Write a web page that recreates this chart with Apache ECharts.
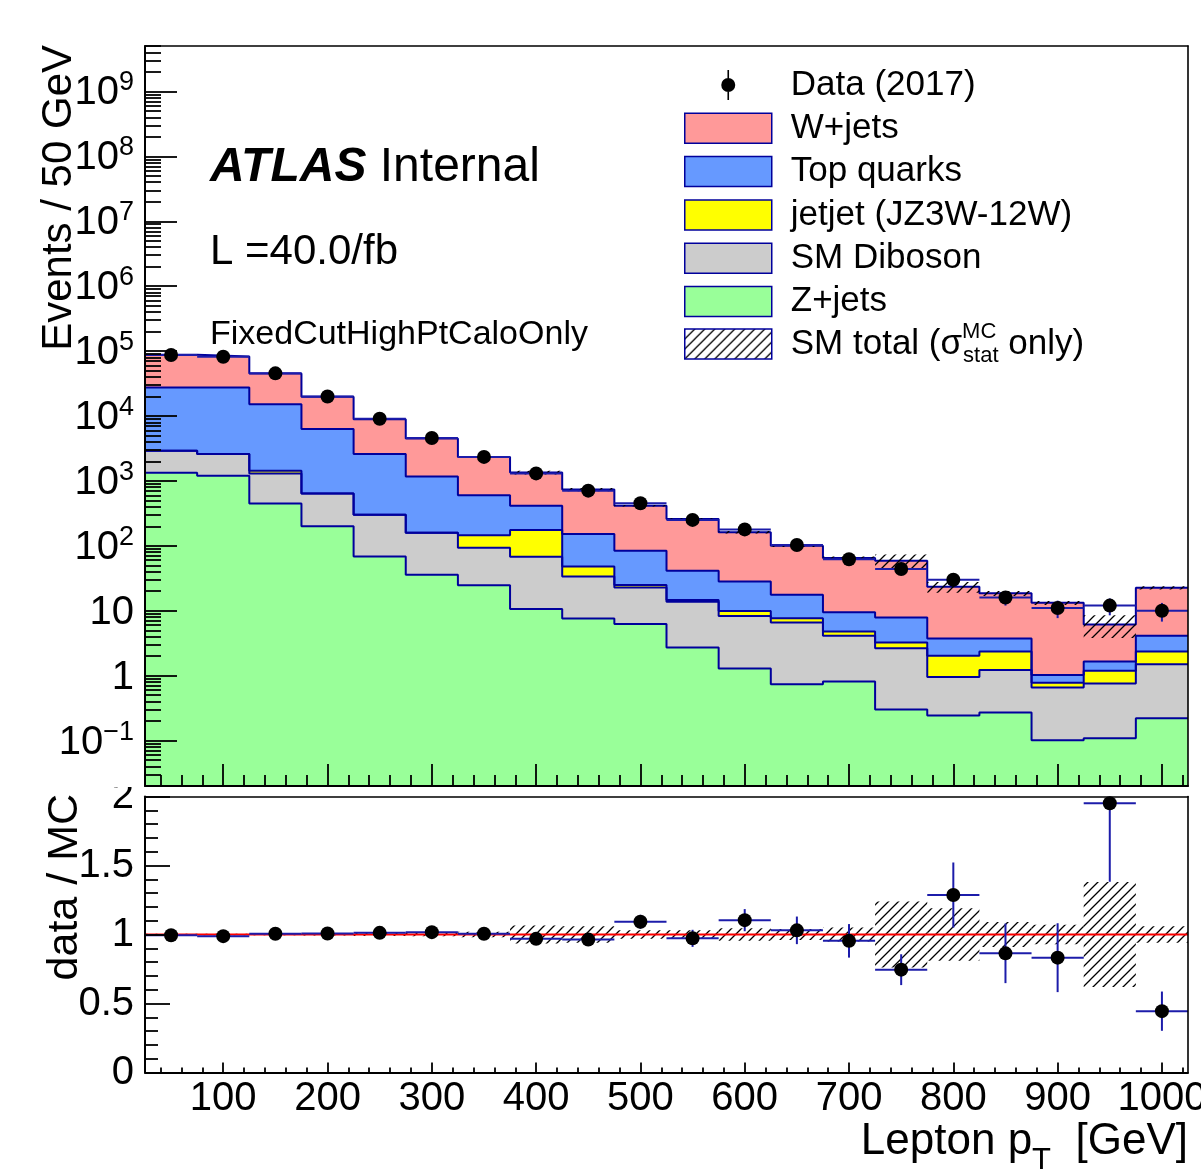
<!DOCTYPE html>
<html>
<head>
<meta charset="utf-8">
<script src="https://cdn.jsdelivr.net/npm/echarts@6/dist/echarts.min.js"></script>
<style>
html,body{margin:0;padding:0;background:#fff;}
#chart{width:1201px;height:1169px;}
</style>
</head>
<body>
<div id="chart"></div>
<script>
// ---------------- data ----------------
const binCenters = [50,100,150,200,250,300,350,400,450,500,550,600,650,700,750,800,850,900,950,1000];
const binWidth = 50;
const zJets     = [1334,1200,449,201,68.4,35.7,24.8,10.6,7.6,6.22,2.71,1.29,0.74,0.81,0.30,0.243,0.270,0.101,0.109,0.221];
const diboson   = [1576,1390,851,439,233,124,69,57,26,16.6,11.0,7.0,5.85,3.29,2.35,0.714,0.95,0.555,0.646,1.28];
const jetjet    = [0,0,132,0,0,0,52,107,14.5,2.0,0.9,1.66,1.10,0.69,0.59,1.06,1.13,0.124,0.435,0.85];
const topQuarks = [24590,24910,13768,5640,2289,1010,458,238,104,59,26.6,18.2,9.9,4.7,4.61,1.71,1.38,0.24,0.46,1.75];
const wJets     = [60200,55100,30000,13520,6360,3330,1726,936,583,331,217,134,82.4,55.5,51.2,19.6,14.8,12.2,4.5,18.4];
const dataCounts = [87260,81610,45430,19940,9057,4577,2342,1306,708,453,251,179,103,62,44,30,16,11,12,10];
const dataErr    = [295,286,213,141,95,68,48,36,27,21,16,13,10,7.9,6.6,5.5,4.0,3.3,3.5,3.2];
const mcStatRelErr = [0.005,0.005,0.006,0.008,0.01,0.012,0.02,0.065,0.06,0.03,0.03,0.045,0.04,0.05,0.24,0.19,0.09,0.07,0.38,0.06];

const xMajorTicks = [100,200,300,400,500,600,700,800,900,1000];
const yLogMajorTicks = [-1,0,1,2,3,4,5,6,7,8,9];
const ratioMajorTicks = [0,0.5,1,1.5,2];

const legendNames = ['Data (2017)','W+jets','Top quarks','jetjet (JZ3W-12W)','SM Diboson','Z+jets','SM total'];

// ---------------- styling constants ----------------
const FONT = '"Liberation Sans", Arial, Helvetica, sans-serif';
const NAVY = '#00009c';
const BLUE = '#1c1caa';
const C_W = '#ff9999', C_TOP = '#6699ff', C_JJ = '#ffff00', C_DIB = '#cccccc', C_Z = '#99ff99';
const X_MIN = 25, X_MAX = 1025;
const LOG_MIN = -1.7, LOG_MAX = 9.7;
const R_MIN = 0, R_MAX = 2;

// ---------------- derived ----------------
const cumZ = zJets.slice();
const cumDib = cumZ.map((v,i)=>v+diboson[i]);
const cumJJ = cumDib.map((v,i)=>v+jetjet[i]);
const cumTop = cumJJ.map((v,i)=>v+topQuarks[i]);
const mcTotal = cumTop.map((v,i)=>v+wJets[i]);
const lg = Math.log10;

function stepData(arr){
  const pts = binCenters.map((c,i)=>[c-binWidth/2, lg(arr[i])]);
  const last = binCenters.length-1;
  pts.push([binCenters[last]+binWidth/2, lg(arr[last])]);
  return pts;
}

const xMinorTicks = [];
for (let v=40; v<X_MAX; v+=20) if (v%100!==0) xMinorTicks.push(v);
const yLogMinorTicks = [];
for (let e=-2; e<=9; e++) for (let k=2;k<=9;k++){ const v=e+lg(k); if (v>LOG_MIN && v<LOG_MAX) yLogMinorTicks.push(v); }
const ratioMinorTicks = [];
for (let k=1;k<20;k++) if (k%5!==0) ratioMinorTicks.push(k/10);

// hatch pattern
function makeHatch(){
  const s=10, cv=document.createElement('canvas');
  cv.width=s; cv.height=s;
  const ctx=cv.getContext('2d');
  ctx.strokeStyle='#000'; ctx.lineWidth=1.3;
  ctx.beginPath();
  ctx.moveTo(0,s); ctx.lineTo(s,0);
  ctx.moveTo(-2,2); ctx.lineTo(2,-2);
  ctx.moveTo(s-2,s+2); ctx.lineTo(s+2,s-2);
  ctx.stroke();
  return {image: cv, repeat: 'repeat'};
}
const HATCH = makeHatch();

// ---------------- axes ----------------
const AX = {color:'#000', width:2};
function logLabel(v){
  const n = Math.round(v);
  if (n===0) return '{b|1}';
  if (n===1) return '{b|10}';
  return '{b|10}{s|' + (n<0 ? '\u2212'+(-n) : n) + '}';
}
const xAxes = [
  {gridIndex:0, type:'value', min:X_MIN, max:X_MAX, position:'bottom', z:10,
   axisLine:{show:true, onZero:false, lineStyle:AX},
   axisTick:{show:true, inside:true, length:22, customValues:xMajorTicks, lineStyle:{color:'#000', width:1.8}},
   axisLabel:{show:false}, splitLine:{show:false}},
  {gridIndex:0, type:'value', min:X_MIN, max:X_MAX, position:'bottom', z:10,
   axisLine:{show:false, onZero:false},
   axisTick:{show:true, inside:true, length:11, customValues:xMinorTicks, lineStyle:{color:'#000', width:1.8}},
   axisLabel:{show:false}, splitLine:{show:false}},
  {gridIndex:0, type:'value', min:X_MIN, max:X_MAX, position:'top', z:10,
   axisLine:{show:true, onZero:false, lineStyle:{color:'#000', width:1.6}},
   axisTick:{show:false}, axisLabel:{show:false}, splitLine:{show:false}},
  {gridIndex:1, type:'value', min:X_MIN, max:X_MAX, position:'bottom', z:10,
   axisLine:{show:true, onZero:false, lineStyle:AX},
   axisTick:{show:true, inside:true, length:10, customValues:xMajorTicks, lineStyle:{color:'#000', width:1.8}},
   axisLabel:{show:true, customValues:xMajorTicks, margin:6, color:'#000', fontSize:40, fontFamily:FONT,
     formatter: v => String(v)},
   splitLine:{show:false}},
  {gridIndex:1, type:'value', min:X_MIN, max:X_MAX, position:'bottom', z:10,
   axisLine:{show:false, onZero:false},
   axisTick:{show:true, inside:true, length:5, customValues:xMinorTicks, lineStyle:{color:'#000', width:1.8}},
   axisLabel:{show:false}, splitLine:{show:false}},
  {gridIndex:1, type:'value', min:X_MIN, max:X_MAX, position:'top', z:10,
   axisLine:{show:true, onZero:false, lineStyle:{color:'#000', width:1.6}},
   axisTick:{show:false}, axisLabel:{show:false}, splitLine:{show:false}}
];
const yAxes = [
  {gridIndex:0, type:'value', min:LOG_MIN, max:LOG_MAX, position:'left', z:10,
   axisLine:{show:true, onZero:false, lineStyle:AX},
   axisTick:{show:true, inside:true, length:32, customValues:yLogMajorTicks, lineStyle:{color:'#000', width:1.8}},
   axisLabel:{show:true, customValues:yLogMajorTicks, margin:11, formatter:logLabel,
     rich:{ b:{fontSize:40, fontFamily:FONT, color:'#000', lineHeight:44, verticalAlign:'bottom'},
            s:{fontSize:27, fontFamily:FONT, color:'#000', lineHeight:27, verticalAlign:'top'} }},
   splitLine:{show:false}},
  {gridIndex:0, type:'value', min:LOG_MIN, max:LOG_MAX, position:'left', z:10,
   axisLine:{show:false, onZero:false},
   axisTick:{show:true, inside:true, length:16, customValues:yLogMinorTicks, lineStyle:{color:'#000', width:1.8}},
   axisLabel:{show:false}, splitLine:{show:false}},
  {gridIndex:0, type:'value', min:LOG_MIN, max:LOG_MAX, position:'right', z:10,
   axisLine:{show:true, onZero:false, lineStyle:{color:'#000', width:1.6}},
   axisTick:{show:false}, axisLabel:{show:false}, splitLine:{show:false}},
  {gridIndex:1, type:'value', min:R_MIN, max:R_MAX, position:'left', z:10,
   axisLine:{show:true, onZero:false, lineStyle:AX},
   axisTick:{show:true, inside:true, length:25, customValues:ratioMajorTicks, lineStyle:{color:'#000', width:1.8}},
   axisLabel:{show:true, customValues:ratioMajorTicks, margin:11, color:'#000', fontSize:40, fontFamily:FONT,
     formatter: v => String(v)},
   splitLine:{show:false}},
  {gridIndex:1, type:'value', min:R_MIN, max:R_MAX, position:'left', z:10,
   axisLine:{show:false, onZero:false},
   axisTick:{show:true, inside:true, length:13, customValues:ratioMinorTicks, lineStyle:{color:'#000', width:1.8}},
   axisLabel:{show:false}, splitLine:{show:false}},
  {gridIndex:1, type:'value', min:R_MIN, max:R_MAX, position:'right', z:10,
   axisLine:{show:true, onZero:false, lineStyle:{color:'#000', width:1.6}},
   axisTick:{show:false}, axisLabel:{show:false}, splitLine:{show:false}}
];

// ---------------- series ----------------
function stackSeries(name, arr, fill){
  return {type:'line', name, xAxisIndex:0, yAxisIndex:0, data:stepData(arr), step:'end',
    symbol:'none', showSymbol:false, silent:true, z:2,
    lineStyle:{color:NAVY, width:2},
    areaStyle:{color:fill, opacity:1, origin:'start'},
    itemStyle:{color:fill, borderColor:NAVY},
    emphasis:{disabled:true}};
}
function hatchSeries(name, xi, yi, rows){
  return {type:'custom', name, xAxisIndex:xi, yAxisIndex:yi, z:3, silent:true,
    data: rows, encode:{x:0, y:[1,2]},
    itemStyle:{color:HATCH},
    renderItem(params, api){
      const x = api.value(0);
      const p1 = api.coord([x-binWidth/2, api.value(1)]);
      const p2 = api.coord([x+binWidth/2, api.value(2)]);
      return {type:'rect', shape:{x:p1[0], y:p1[1], width:p2[0]-p1[0], height:p2[1]-p1[1]},
              style:{fill:HATCH, stroke:null}};
    }};
}
function errSeries(name, xi, yi, rows, yMax){
  return {type:'custom', name, xAxisIndex:xi, yAxisIndex:yi, z:4, silent:true,
    data: rows, encode:{x:0, y:[1,2,3]},
    renderItem(params, api){
      const x = api.value(0), y = api.value(1), lo = api.value(2), hi = Math.min(api.value(3), yMax);
      const pL = api.coord([x-binWidth/2, y]), pR = api.coord([x+binWidth/2, y]);
      const pLo = api.coord([x, lo]), pHi = api.coord([x, hi]);
      return {type:'group', children:[
        {type:'line', shape:{x1:pL[0], y1:pL[1], x2:pR[0], y2:pR[1]}, style:{stroke:BLUE, lineWidth:2}},
        {type:'line', shape:{x1:pLo[0], y1:pLo[1], x2:pHi[0], y2:pHi[1]}, style:{stroke:BLUE, lineWidth:2}}
      ]};
    }};
}

const topHatchRows = binCenters.map((c,i)=>[c, lg(mcTotal[i]*(1+mcStatRelErr[i])), lg(mcTotal[i]*(1-mcStatRelErr[i]))]);
const topErrRows = binCenters.map((c,i)=>[c, lg(dataCounts[i]), lg(dataCounts[i]-dataErr[i]), lg(dataCounts[i]+dataErr[i])]);
const topPoints = binCenters.map((c,i)=>[c, lg(dataCounts[i])]);

const ratio = dataCounts.map((d,i)=>d/mcTotal[i]);
const ratioErr = dataErr.map((e,i)=>e/mcTotal[i]);
const ratioHatchRows = binCenters.map((c,i)=>[c, 1+mcStatRelErr[i], 1-mcStatRelErr[i]]);
const ratioErrRows = binCenters.map((c,i)=>[c, ratio[i], ratio[i]-ratioErr[i], ratio[i]+ratioErr[i]]);
const ratioPoints = binCenters.map((c,i)=>[c, ratio[i]]);

const series = [
  stackSeries('W+jets', mcTotal, C_W),
  stackSeries('Top quarks', cumTop, C_TOP),
  stackSeries('jetjet (JZ3W-12W)', cumJJ, C_JJ),
  stackSeries('SM Diboson', cumDib, C_DIB),
  stackSeries('Z+jets', cumZ, C_Z),
  hatchSeries('SM total', 0, 0, topHatchRows),
  errSeries('data errors', 0, 0, topErrRows, LOG_MAX),
  {type:'scatter', name:'Data (2017)', xAxisIndex:0, yAxisIndex:0, z:5, silent:true,
   data: topPoints, symbol:'circle', symbolSize:14, itemStyle:{color:'#000', opacity:1}},
  hatchSeries('SM total ratio', 3, 3, ratioHatchRows),
  {type:'line', name:'unity', xAxisIndex:3, yAxisIndex:3, z:3, silent:true, symbol:'none',
   data:[[X_MIN,1],[X_MAX,1]], lineStyle:{color:'#ff0000', width:2}},
  errSeries('ratio errors', 3, 3, ratioErrRows, R_MAX),
  {type:'scatter', name:'data / MC', xAxisIndex:3, yAxisIndex:3, z:5, silent:true,
   data: ratioPoints, symbol:'circle', symbolSize:14, itemStyle:{color:'#000', opacity:1}}
];

// ---------------- legend ----------------
const DATA_ICON = 'path://M-0.8,-15L0.8,-15L0.8,15L-0.8,15Z M7,0A7,7,0,1,1,-7,0A7,7,0,1,1,7,0Z';
const boxStyle = c => ({color:c, borderColor:NAVY, borderWidth:1.5, opacity:1});
const legends = [
  {orient:'vertical', left:684, top:67.5, padding:0, itemWidth:87, itemHeight:30, itemGap:8.3,
   selectedMode:false, symbolKeepAspect:true,
   textStyle:{fontFamily:FONT, fontSize:35, color:'#000', padding:[0,0,0,14]},
   data:[
     {name:legendNames[0], icon:DATA_ICON, itemStyle:{color:'#000', borderWidth:0, opacity:1}},
     {name:legendNames[1], icon:'rect', itemStyle:boxStyle(C_W)},
     {name:legendNames[2], icon:'rect', itemStyle:boxStyle(C_TOP)},
     {name:legendNames[3], icon:'rect', itemStyle:boxStyle(C_JJ)},
     {name:legendNames[4], icon:'rect', itemStyle:boxStyle(C_DIB)},
     {name:legendNames[5], icon:'rect', itemStyle:boxStyle(C_Z)}
   ]},
  {orient:'vertical', left:684, top:321, padding:0, itemWidth:87, itemHeight:30,
   selectedMode:false,
   textStyle:{fontFamily:FONT, fontSize:35, color:'#000', lineHeight:46, padding:[0,0,0,14],
     rich:{ t:{fontFamily:FONT, fontSize:35, color:'#000', lineHeight:46},
            sup:{fontFamily:FONT, fontSize:22, color:'#000', lineHeight:20, verticalAlign:'top', width:1},
            sub:{fontFamily:FONT, fontSize:22, color:'#000', lineHeight:20, verticalAlign:'bottom'} }},
   formatter: () => '{t|SM total (\u03c3}{sup|MC}{sub|stat}{t| only)}',
   data:[{name:legendNames[6], icon:'rect', itemStyle:{color:HATCH, borderColor:NAVY, borderWidth:1.5}}]}
];

// ---------------- texts ----------------
const graphic = [
  {type:'text', x:210, y:168, z:20,
   style:{text:'{b|ATLAS} {n|Internal}', fontSize:48, fontFamily:FONT, fill:'#000', verticalAlign:'middle',
     rich:{ b:{fontSize:48, fontFamily:FONT, fontWeight:'bold', fontStyle:'italic', fill:'#000'},
            n:{fontSize:48, fontFamily:FONT, fill:'#000'} }}},
  {type:'text', x:210, y:252, z:20,
   style:{text:'L =40.0/fb', fontSize:42, fontFamily:FONT, fill:'#000', verticalAlign:'middle'}},
  {type:'text', x:210, y:335, z:20,
   style:{text:'FixedCutHighPtCaloOnly', fontSize:34, fontFamily:FONT, fill:'#000', verticalAlign:'middle'}},
  {type:'text', x:59.5, y:45, rotation:Math.PI/2, z:20,
   style:{text:'Events / 50 GeV', fontSize:42, fontFamily:FONT, fill:'#000', align:'right', verticalAlign:'middle'}},
  {type:'text', x:65.5, y:794, rotation:Math.PI/2, z:20,
   style:{text:'data / MC', fontSize:43, fontFamily:FONT, fill:'#000', align:'right', verticalAlign:'middle'}},
  {type:'text', x:1188, y:1142, z:20,
   style:{text:'{a|Lepton p}{s|T}{a|  [GeV]}', fontSize:44, fontFamily:FONT, fill:'#000', align:'right', verticalAlign:'middle',
     rich:{ a:{fontSize:44, fontFamily:FONT, fill:'#000', lineHeight:70},
            s:{fontSize:31, fontFamily:FONT, fill:'#000', lineHeight:31, verticalAlign:'bottom'} }}},
  {type:'rect', z:30, shape:{x:60, y:765, width:84, height:22}, style:{fill:'#fff'}}
];

const chart = echarts.init(document.getElementById('chart'), null, {renderer:'canvas'});
chart.setOption({
  animation:false,
  backgroundColor:'#fff',
  textStyle:{fontFamily:FONT},
  grid:[
    {left:145, top:46, width:1043, height:740, outerBoundsMode:'none', containLabel:false},
    {left:145, top:796.5, width:1043, height:276, outerBoundsMode:'none', containLabel:false}
  ],
  xAxis:xAxes,
  yAxis:yAxes,
  legend:legends,
  series:series,
  graphic:graphic
});
</script>
</body>
</html>
